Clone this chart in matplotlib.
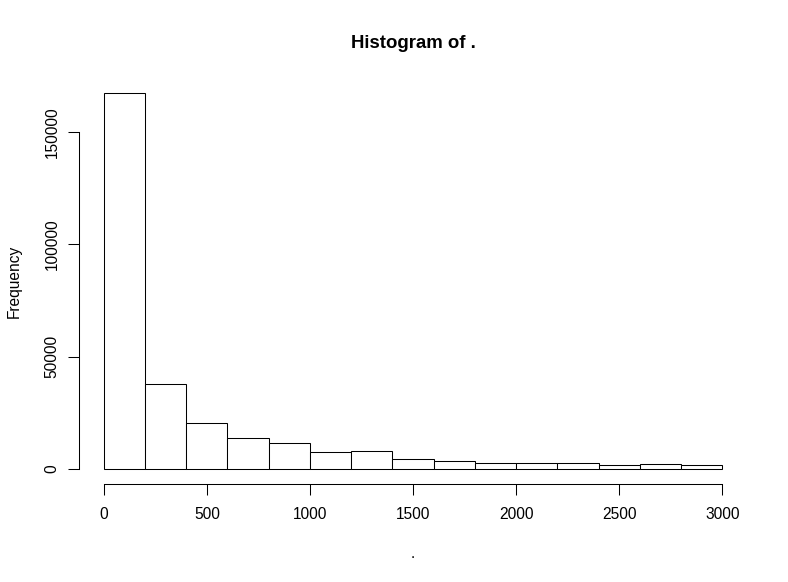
import matplotlib
matplotlib.use("Agg")
from matplotlib import pyplot as plt
import numpy as np

# histogram bins (width 200) and counts
bin_edges = np.arange(0, 3200, 200)
counts = [167200, 38000, 20300, 13900, 11400, 7600, 8000, 4400,
          3500, 2650, 2650, 2500, 1750, 2350, 1650]
x_ticks = [0, 500, 1000, 1500, 2000, 2500, 3000]
y_ticks = [0, 50000, 100000, 150000]

plt.rcParams["font.family"] = ["Liberation Sans", "DejaVu Sans"]

W, H = 788, 582
FS = 11.2
fig = plt.figure(figsize=(W / 100, H / 100), dpi=100)
ax = fig.add_axes([79 / W, (H - 484) / H, (747 - 79) / W, (484 - 78) / H])

ax.bar(bin_edges[:-1], counts, width=np.diff(bin_edges), align="edge",
       facecolor="white", edgecolor="black", linewidth=0.75)

ymax = max(counts)
ax.set_xlim(-0.04 * 3000, 3000 * 1.04)
ax.set_ylim(-0.04 * ymax, ymax * 1.04)

for s in ("top", "right"):
    ax.spines[s].set_visible(False)
ax.spines["left"].set_bounds(0, 150000)
ax.spines["bottom"].set_bounds(0, 3000)
for s in ("left", "bottom"):
    ax.spines[s].set_linewidth(0.75)

ax.set_xticks(x_ticks)
ax.set_yticks(y_ticks)
ax.set_xticklabels([str(v) for v in x_ticks])
ax.set_yticklabels([str(v) for v in y_ticks], rotation=90, va="center")
ax.tick_params(length=7.8, width=0.75, labelsize=FS)
ax.tick_params(axis="x", pad=8.5)
ax.tick_params(axis="y", pad=6)

# title and axis labels placed at the reference's pixel positions
fig.text(413 / W, 1 - 48 / H, "Histogram of .", ha="center", va="baseline",
         fontsize=FS * 1.2, fontweight="bold")
fig.text(413 / W, 1 - 558 / H, ".", ha="center", va="baseline", fontsize=FS)
fig.text(14 / W, 1 - 281 / H, "Frequency", ha="center", va="center",
         rotation=90, fontsize=FS)

fig.savefig("out.png", dpi=100)
